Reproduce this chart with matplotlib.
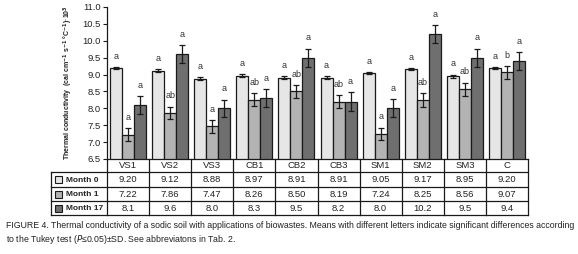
import matplotlib
matplotlib.use("Agg")
import matplotlib.pyplot as plt
from matplotlib.patches import Rectangle
import numpy as np

categories = ["VS1", "VS2", "VS3", "CB1", "CB2", "CB3", "SM1", "SM2", "SM3", "C"]
series_names = ["Month 0", "Month 1", "Month 17"]
month0 = [9.20, 9.12, 8.88, 8.97, 8.91, 8.91, 9.05, 9.17, 8.95, 9.20]
month1 = [7.22, 7.86, 7.47, 8.26, 8.50, 8.19, 7.24, 8.25, 8.56, 9.07]
month17 = [8.1, 9.6, 8.0, 8.3, 9.5, 8.2, 8.0, 10.2, 9.5, 9.4]
month0_txt = ["9.20", "9.12", "8.88", "8.97", "8.91", "8.91", "9.05", "9.17", "8.95", "9.20"]
month1_txt = ["7.22", "7.86", "7.47", "8.26", "8.50", "8.19", "7.24", "8.25", "8.56", "9.07"]
month17_txt = ["8.1", "9.6", "8.0", "8.3", "9.5", "8.2", "8.0", "10.2", "9.5", "9.4"]
sd0 = [0.03, 0.04, 0.04, 0.04, 0.04, 0.04, 0.03, 0.03, 0.05, 0.03]
sd1 = [0.20, 0.19, 0.19, 0.20, 0.19, 0.19, 0.19, 0.20, 0.20, 0.19]
sd17 = [0.26, 0.27, 0.26, 0.27, 0.27, 0.27, 0.27, 0.27, 0.27, 0.27]
letters0 = ["a"] * 10
letters1 = ["a", "ab", "a", "ab", "ab", "ab", "a", "ab", "ab", "b"]
letters17 = ["a"] * 10
yticks = [6.5, 7.0, 7.5, 8.0, 8.5, 9.0, 9.5, 10.0, 10.5, 11.0]
ylabel = "Thermal conductivity  (cal cm$^{-1}$ s$^{-1}$ °C$^{-1}$)·10$^{3}$"
caption1 = "FIGURE 4. Thermal conductivity of a sodic soil with applications of biowastes. Means with different letters indicate significant differences according"
caption2 = r"to the Tukey test ($\mathit{P}$≤0.05)±SD. See abbreviatons in Tab. 2."

colors = ["#e6e6e6", "#b3b3b3", "#6f6f6f"]
edge = "#1a1a1a"
FONT = ["Liberation Sans Narrow", "Liberation Sans", "DejaVu Sans"]
plt.rcParams["font.family"] = FONT
plt.rcParams["mathtext.fontset"] = "custom"
plt.rcParams["mathtext.rm"] = "Liberation Sans Narrow:bold"
plt.rcParams["mathtext.it"] = "Liberation Sans Narrow:italic"
plt.rcParams["mathtext.bf"] = "Liberation Sans Narrow:bold"
plt.rcParams["mathtext.default"] = "rm"

W, H = 578, 254
fig = plt.figure(figsize=(W / 100, H / 100), dpi=100)

def fx(px):
    return px / W

def fy(py):
    return 1 - py / H

ax_l, ax_r, ax_t, ax_b = 107, 528, 7, 159
ax = fig.add_axes([fx(ax_l), fy(ax_b), fx(ax_r - ax_l), (ax_b - ax_t) / H])

x = np.arange(len(categories))
bw = 0.285
series = [month0, month1, month17]
sds = [sd0, sd1, sd17]
lets = [letters0, letters1, letters17]
for i, (vals, sd, lt) in enumerate(zip(series, sds, lets)):
    xs = x + (i - 1) * bw
    ax.bar(xs, vals, width=bw, color=colors[i], edgecolor=edge, linewidth=0.9, zorder=2)
    ax.errorbar(xs, vals, yerr=sd, fmt="none", ecolor=edge, elinewidth=0.9, capsize=2.5, capthick=0.9, zorder=3)
    for xi, v, s, l in zip(xs, vals, sd, lt):
        ax.annotate(l, (xi, v + s), xytext=(0, 4.5), textcoords="offset points",
                    ha="center", va="bottom", fontsize=6.5, color="#333333")

ax.set_xlim(-0.5, len(categories) - 0.5)
ax.set_ylim(6.5, 11.0)
ax.set_yticks(yticks)
ax.set_yticklabels([f"{t:.1f}" for t in yticks], fontsize=6.8, color="#222222")
ax.set_xticks([])
for s in ["top", "right", "bottom"]:
    ax.spines[s].set_visible(False)
ax.spines["left"].set_linewidth(0.9)
ax.spines["left"].set_color(edge)
ax.tick_params(axis="y", direction="out", length=3, width=0.8, pad=1.5, color=edge)
ax.set_ylabel(ylabel, fontsize=5.0, fontweight="bold", color="#222222")
ax.yaxis.set_label_coords(-0.075, 0.5)

# table axes
t_l, t_r, t_t, t_b = 51, 528, 159, 215
tax = fig.add_axes([fx(t_l), fy(t_b), fx(t_r - t_l), (t_b - t_t) / H])
colw = (ax_r - ax_l) / len(categories)
lab_units = (ax_l - t_l) / colw
tax.set_xlim(-0.5 - lab_units, len(categories) - 0.5)
row_edges = [159, 172, 187, 201, 215]
tax.set_ylim(t_b, t_t)
tax.axis("off")
lc = edge
lw = 0.9
tax.plot([-0.5, len(categories) - 0.5], [row_edges[0]] * 2, color=lc, lw=lw, clip_on=False)
for ry in row_edges[1:]:
    tax.plot([-0.5 - lab_units, len(categories) - 0.5], [ry] * 2, color=lc, lw=lw, clip_on=False)
for c in range(len(categories) + 1):
    tax.plot([c - 0.5] * 2, [row_edges[0], row_edges[-1]], color=lc, lw=lw, clip_on=False)
tax.plot([-0.5 - lab_units] * 2, [row_edges[1], row_edges[-1]], color=lc, lw=lw, clip_on=False)

def rowc(r):
    return (row_edges[r] + row_edges[r + 1]) / 2

for c, name in enumerate(categories):
    tax.text(c, rowc(0), name, ha="center", va="center", fontsize=6.8, color="#222222")
row_txt = [month0_txt, month1_txt, month17_txt]
px_unit = 1 / colw
for r, txts in enumerate(row_txt):
    for c, t in enumerate(txts):
        tax.text(c, rowc(r + 1), t, ha="center", va="center", fontsize=6.8, color="#222222")
    tax.add_patch(Rectangle((-0.5 - lab_units + 4 * px_unit, rowc(r + 1) - 3.5), 7 * px_unit, 7,
                            facecolor=colors[r], edgecolor=edge, lw=0.8, clip_on=False))
    tax.text(-0.5 - lab_units + 15 * px_unit, rowc(r + 1) + 0.5, series_names[r], ha="left", va="center",
             fontsize=6.0, fontweight="bold", color="#222222")

fig.text(fx(6), fy(226), caption1, fontsize=6.3, ha="left", va="center", color="#222222")
fig.text(fx(6), fy(239), caption2, fontsize=6.3, ha="left", va="center", color="#222222")

fig.savefig("out.png", dpi=100)
